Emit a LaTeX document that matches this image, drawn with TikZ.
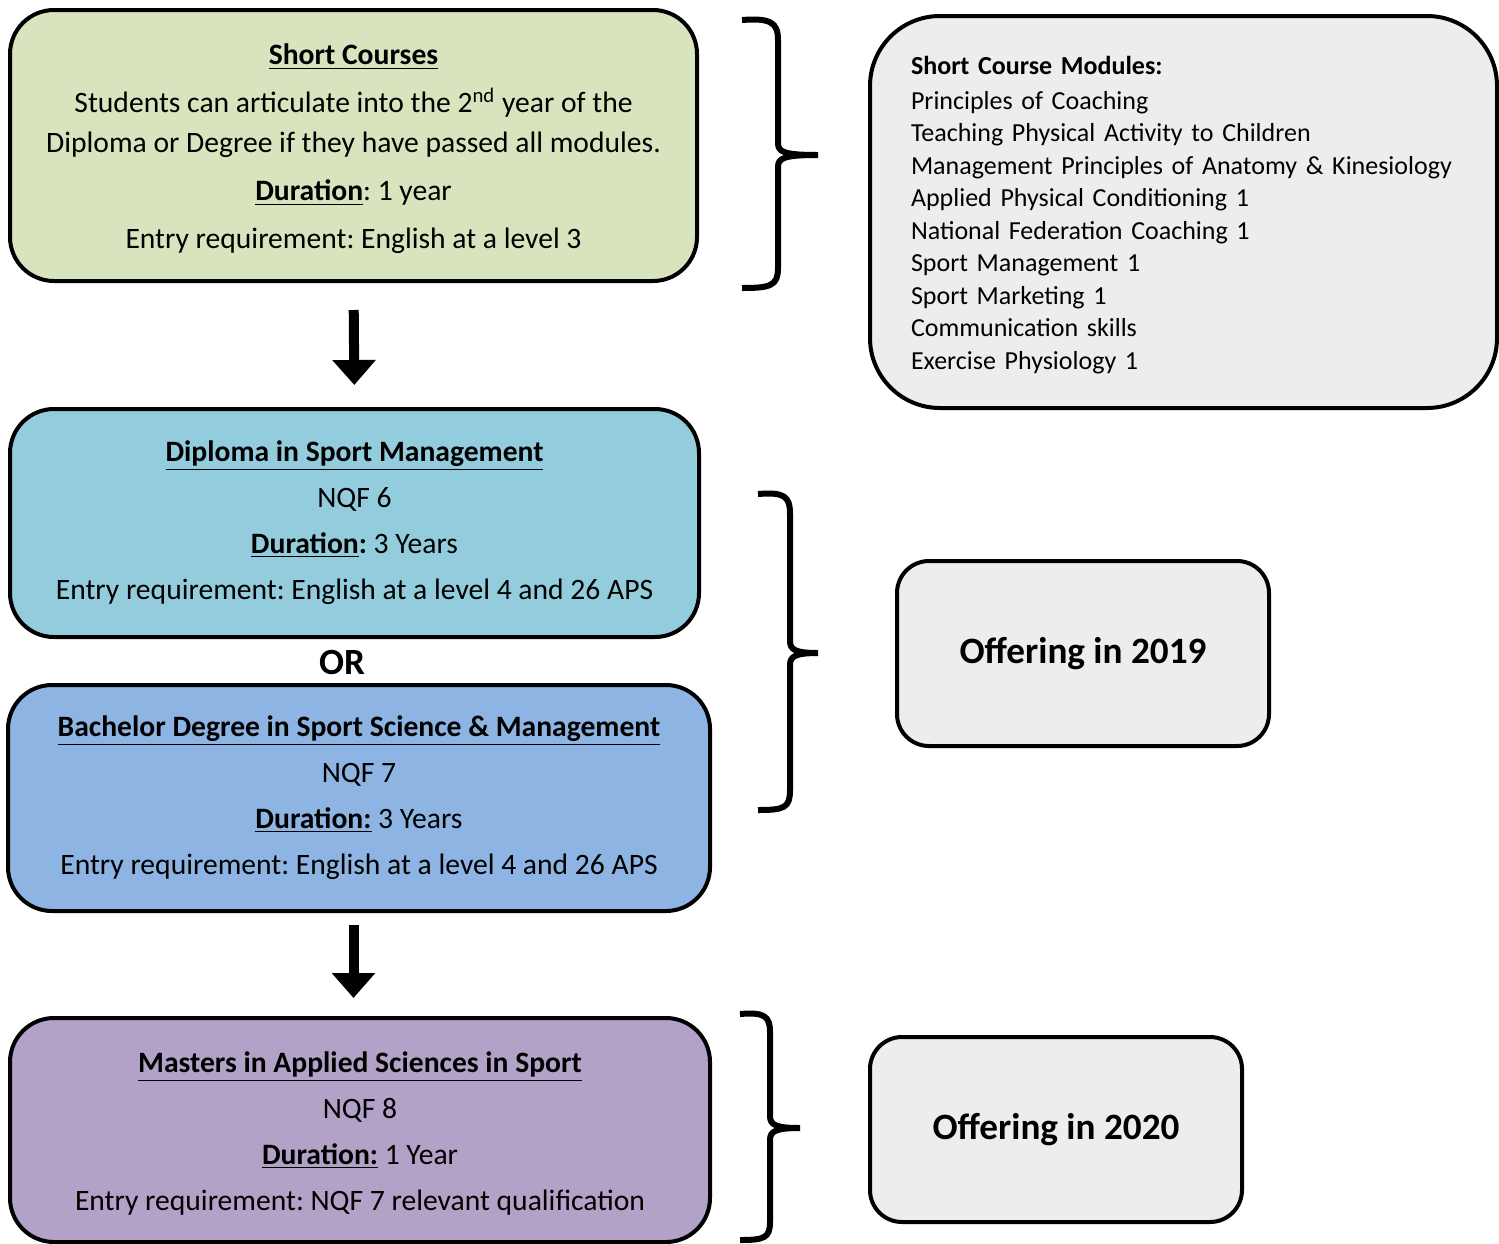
\documentclass[tikz,border=0pt]{standalone}
\usepackage{fontspec}
\setmainfont{Carlito}
\usetikzlibrary{arrows.meta,calc}

\definecolor{scgreen}{HTML}{D7E4BD}
\definecolor{dipcyan}{HTML}{93CDDD}
\definecolor{bachblue}{HTML}{8EB4E3}
\definecolor{mastpurple}{HTML}{B3A2C7}
\definecolor{offgray}{HTML}{EDEDED}
\frenchspacing

\begin{document}
\begin{tikzpicture}[x=0.5pt, y=-0.5pt]
  \tikzstyle{course}=[rectangle, draw, line width=2pt, rounded corners=22pt, align=center, font=\fontsize{14.8}{23}\selectfont]
  \tikzstyle{offer}=[rectangle, draw, line width=2pt, rounded corners=16pt, fill=offgray, minimum width=186pt, minimum height=92.5pt, font=\bfseries\fontsize{18.6}{20}\selectfont]
  \tikzstyle{bigarrow}=[line width=5pt, -{Triangle[width=21pt,length=12.5pt]}]
  \tikzstyle{brace}=[line width=3pt]

  \useasboundingbox (0,0) rectangle (1499,1243);

  \node[course, fill=scgreen, minimum width=343.5pt, minimum height=135.5pt, font=\fontsize{14.8}{20}\selectfont] (sc) at (353.5,145.5)
    {\rule{0pt}{14pt}\underline{\textbf{Short Courses}}\\[4pt]
     Students can articulate into the 2\textsuperscript{nd} year of the\\
     Diploma or Degree if they have passed all modules.\\[4pt]
     \underline{\textbf{Duration}}: 1 year\\[4pt]
     Entry requirement: English at a level 3};

  \node[rectangle, draw, line width=2pt, rounded corners=35pt, fill=offgray, minimum width=313.5pt, minimum height=196pt,
        text width=272.5pt, inner xsep=20.5pt, align=left, font=\fontsize{13}{16.25}\selectfont] (mods) at (1183.5,212)
    {\rule{0pt}{12pt}\textbf{Short Course Modules:}\\[1pt]
     Principles of Coaching\\
     Teaching Physical Activity to Children\\
     Management Principles of Anatomy \& Kinesiology\\
     Applied Physical Conditioning 1\\
     National Federation Coaching 1\\
     Sport Management 1\\
     Sport Marketing 1\\
     Communication skills\\
     Exercise Physiology 1};

  \node[course, fill=dipcyan, minimum width=344.5pt, minimum height=114pt] (dip) at (354.5,523)
    {\underline{\textbf{Diploma in Sport Management}}\\
     NQF 6\\
     \underline{\textbf{Duration}}\textbf{:} 3 Years\\
     Entry requirement: English at a level 4 and 26 APS};

  \node[font=\bfseries\fontsize{18.5}{20}\selectfont] (or) at (342,662) {OR};

  \node[course, fill=bachblue, minimum width=351pt, minimum height=113pt] (bach) at (359,798)
    {\underline{\textbf{Bachelor Degree in Sport Science \& Management}}\\
     NQF 7\\
     \underline{\textbf{Duration:}} 3 Years\\
     Entry requirement: English at a level 4 and 26 APS};

  \node[course, fill=mastpurple, minimum width=350pt, minimum height=112pt] (mast) at (360,1130)
    {\rule{0pt}{14pt}\underline{\textbf{Masters in Applied Sciences in Sport}}\\
     NQF 8\\
     \underline{\textbf{Duration:}} 1 Year\\
     Entry requirement: NQF 7 relevant qualification};

  \node[offer] (off1) at (1083,653.5) {Offering in 2019};
  \node[offer] (off2) at (1056,1129.5) {Offering in 2020};

  % arrows between the levels
  \draw[bigarrow, shorten <=13.5pt, shorten >=11pt] (sc.south) -- (dip.north);
  \draw[bigarrow, shorten <=6pt, shorten >=9pt] (bach.south -| sc.south) -- (mast.north -| sc.south);

  % braces
  \draw[brace] (742,20) .. controls (770,18) and (778,22) .. (778,40) -- (778,143)
    .. controls (778,152) and (784,155) .. (818,155)
    .. controls (784,155) and (778,158) .. (778,167) -- (778,268)
    .. controls (778,286) and (770,288) .. (742,288);
  \draw[brace] (758,494) .. controls (784,492) and (790,496) .. (790,514) -- (790,641)
    .. controls (790,650) and (796,653) .. (818,653)
    .. controls (796,653) and (790,656) .. (790,665) -- (790,790)
    .. controls (790,808) and (784,810) .. (758,810);
  \draw[brace] (740,1014) .. controls (764,1012) and (770,1016) .. (770,1032) -- (770,1116)
    .. controls (770,1125) and (776,1128) .. (800,1128)
    .. controls (776,1128) and (770,1131) .. (770,1140) -- (770,1222)
    .. controls (770,1238) and (764,1240) .. (740,1240);
\end{tikzpicture}
\end{document}
